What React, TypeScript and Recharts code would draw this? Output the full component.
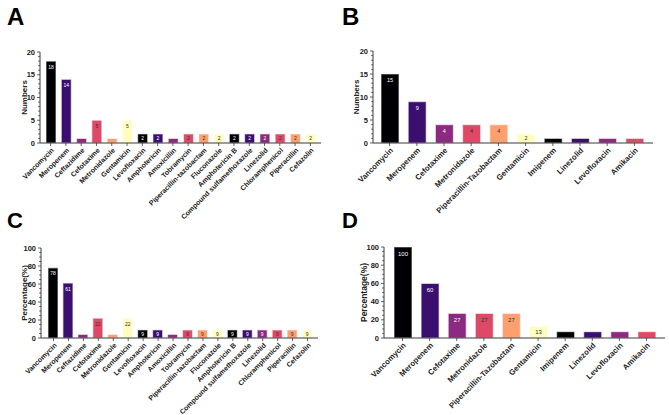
import React from "react";
import { Bar, BarChart, Cell, LabelList, XAxis, YAxis } from "recharts";

// magma-style palette, cycled across the bars
const PALETTE = ["#000004", "#3b0f70", "#8c2981", "#de4968", "#fe9f6d", "#fcfdbf"];

const drugsAll = [
  "Vancomycin",
  "Meropenem",
  "Ceftazidime",
  "Cefotaxime",
  "Metronidazole",
  "Gentamicin",
  "Levofloxacin",
  "Amphotericin",
  "Amoxicillin",
  "Tobramycin",
  "Piperacillin-tazobactam",
  "Fluconazole",
  "Amphotericin B",
  "Compound sulfamethoxazole",
  "Linezolid",
  "Chloramphenicol",
  "Piperacillin",
  "Cefazolin",
];
const countsAll = [18, 14, 1, 5, 1, 5, 2, 2, 1, 2, 2, 2, 2, 2, 2, 2, 2, 2];
const percentAll = [78, 61, 4, 22, 4, 22, 9, 9, 4, 9, 9, 9, 9, 9, 9, 9, 9, 9];

const drugsSub = [
  "Vancomycin",
  "Meropenem",
  "Cefotaxime",
  "Metronidazole",
  "Piperacillin-Tazobactam",
  "Gentamicin",
  "Imipenem",
  "Linezolid",
  "Levofloxacin",
  "Amikacin",
];
const countsSub = [15, 9, 4, 4, 4, 2, 1, 1, 1, 1];
const percentSub = [100, 60, 27, 27, 27, 13, 7, 7, 7, 7];

const countTicks = [0, 5, 10, 15, 20];
const percentTicks = [0, 20, 40, 60, 80, 100];

const FONT = "Arial, 'Liberation Sans', sans-serif";
const AXIS = "#3a3a3a";

type PanelProps = {
  letter: string;
  letterSize: number;
  left: number;
  top: number;
  width: number;
  height: number;
  names: string[];
  values: number[];
  majorTicks: number[];
  minorStep: number;
  yTitle: string;
  titleX: number;
  margin: { top: number; right: number; bottom: number; left: number };
  xAxisHeight: number;
  pad: { left: number; right: number };
  barSize: number;
  xFont: number;
  yFont: number;
  labelFont: number;
  titleFont: number;
};

const Y_W = 24;

function Panel(p: PanelProps) {
  const data = p.names.map((name, i) => ({ name, value: p.values[i] }));
  const max = p.majorTicks[p.majorTicks.length - 1];
  const ticks: number[] = [];
  for (let v = 0; v <= max; v += p.minorStep) ticks.push(v);
  const axisX = p.margin.left + Y_W;
  const plotBottom = p.height - p.margin.bottom - p.xAxisHeight;
  const plotH = plotBottom - p.margin.top;

  const YTick = (props: any) => {
    const y = props.y;
    const v = props.payload.value;
    const major = p.majorTicks.includes(v);
    return (
      <g>
        <line x1={axisX} x2={axisX - (major ? 3 : 1.8)} y1={y} y2={y} stroke={AXIS} strokeWidth={0.8} />
        {major && (
          <text x={axisX - 5} y={y} dy="0.35em" textAnchor="end" fontSize={p.yFont} fontWeight="bold" fill="#222" fontFamily={FONT}>
            {v}
          </text>
        )}
      </g>
    );
  };

  const XTick = (props: any) => {
    const x = props.x;
    const y0 = plotBottom;
    return (
      <g>
        <line x1={x} x2={x} y1={y0} y2={y0 + 3} stroke={AXIS} strokeWidth={0.8} />
        <text
          x={x + 2}
          y={y0 + 6}
          dy="0.35em"
          textAnchor="end"
          transform={`rotate(-45, ${x + 2}, ${y0 + 6})`}
          fontSize={p.xFont}
          fontWeight="bold"
          fill="#222"
          fontFamily={FONT}
        >
          {props.payload.value}
        </text>
      </g>
    );
  };

  const BarLabel = (props: any) => {
    const { x, y, width, height, value, index } = props;
    if (height < 7) return null;
    const fs = p.labelFont;
    const ty = y + Math.min(height / 2 + fs * 0.35, fs + 2.5);
    return (
      <text x={x + width / 2} y={ty} textAnchor="middle" fontSize={fs} fontFamily={FONT} fill={index % 6 < 3 ? "#ffffff" : "#333333"}>
        {value}
      </text>
    );
  };

  return (
    <div style={{ position: "absolute", left: p.left, top: p.top, width: p.width, height: p.height }}>
      <div
        style={{
          position: "absolute",
          left: 7,
          top: 5,
          fontFamily: FONT,
          fontWeight: "bold",
          fontSize: p.letterSize,
          lineHeight: 1,
          color: "#000",
        }}
      >
        {p.letter}
      </div>
      <BarChart width={p.width} height={p.height} data={data} margin={p.margin} style={{ overflow: "visible" }}>
        <XAxis
          dataKey="name"
          interval={0}
          height={p.xAxisHeight}
          padding={p.pad}
          axisLine={{ stroke: AXIS, strokeWidth: 1 }}
          tickLine={false}
          tick={<XTick />}
        />
        <YAxis
          width={Y_W}
          domain={[0, max]}
          ticks={ticks}
          interval={0}
          allowDataOverflow
          axisLine={{ stroke: AXIS, strokeWidth: 1 }}
          tickLine={false}
          tick={<YTick />}
          label={{
            value: p.yTitle,
            content: () => (
              <text
                x={p.titleX}
                y={p.margin.top + plotH / 2}
                textAnchor="middle"
                dy="0.35em"
                transform={`rotate(-90, ${p.titleX}, ${p.margin.top + plotH / 2})`}
                fontSize={p.titleFont}
                fontWeight="bold"
                fill="#222"
                fontFamily={FONT}
              >
                {p.yTitle}
              </text>
            ),
          }}
        />
        <Bar dataKey="value" barSize={p.barSize} isAnimationActive={false} stroke="rgba(255,255,255,0.55)" strokeWidth={1.2}>
          {data.map((d, i) => (
            <Cell key={d.name} fill={PALETTE[i % 6]} />
          ))}
          <LabelList dataKey="value" content={<BarLabel />} />
        </Bar>
      </BarChart>
    </div>
  );
}

export default function App() {
  return (
    <div style={{ position: "absolute", left: 0, top: 0, width: 669, height: 415, background: "#fff", overflow: "hidden" }}>
      <Panel
        letter="A"
        letterSize={24}
        left={0}
        top={0}
        width={335}
        height={220}
        names={drugsAll}
        values={countsAll}
        majorTicks={countTicks}
        minorStep={1}
        yTitle="Numbers"
        titleX={24}
        margin={{ top: 52, right: 14, bottom: 0, left: 16 }}
        xAxisHeight={77}
        pad={{ left: 3, right: 3 }}
        barSize={10}
        xFont={7}
        yFont={7.5}
        labelFont={5}
        titleFont={8}
      />
      <Panel
        letter="B"
        letterSize={24}
        left={335}
        top={0}
        width={334}
        height={220}
        names={drugsSub}
        values={countsSub}
        majorTicks={countTicks}
        minorStep={1}
        yTitle="Numbers"
        titleX={21}
        margin={{ top: 51, right: 16, bottom: 0, left: 14 }}
        xAxisHeight={77}
        pad={{ left: 3, right: 5 }}
        barSize={18}
        xFont={7.8}
        yFont={7.5}
        labelFont={5.5}
        titleFont={8}
      />
      <Panel
        letter="C"
        letterSize={22}
        left={0}
        top={205}
        width={335}
        height={210}
        names={drugsAll}
        values={percentAll}
        majorTicks={percentTicks}
        minorStep={5}
        yTitle="Percentage(%)"
        titleX={24}
        margin={{ top: 43, right: 17, bottom: 0, left: 17 }}
        xAxisHeight={77}
        pad={{ left: 5, right: 3 }}
        barSize={10}
        xFont={7}
        yFont={7.5}
        labelFont={5}
        titleFont={8}
      />
      <Panel
        letter="D"
        letterSize={22}
        left={335}
        top={205}
        width={334}
        height={210}
        names={drugsSub}
        values={percentSub}
        majorTicks={percentTicks}
        minorStep={5}
        yTitle="Percentage(%)"
        titleX={29}
        margin={{ top: 42, right: 4, bottom: 0, left: 25 }}
        xAxisHeight={77}
        pad={{ left: 5, right: 5 }}
        barSize={18}
        xFont={7.8}
        yFont={7.5}
        labelFont={6}
        titleFont={8.5}
      />
    </div>
  );
}
